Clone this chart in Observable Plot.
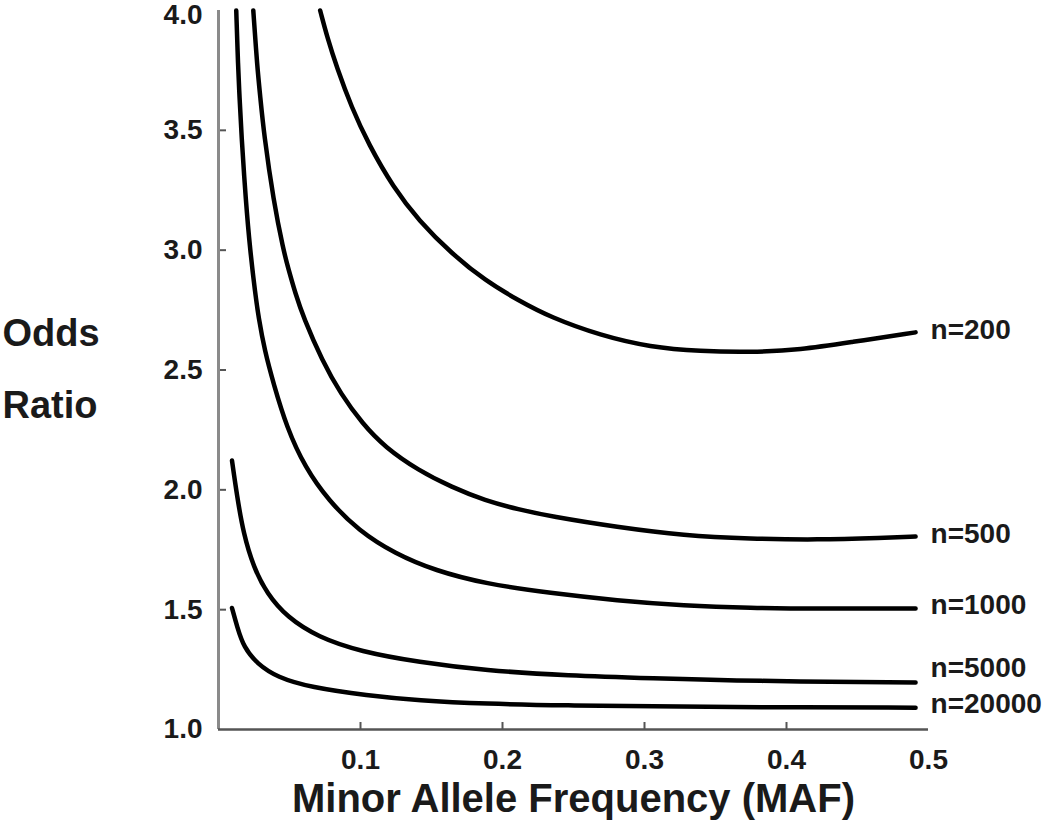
<!DOCTYPE html>
<html>
<head>
<meta charset="utf-8">
<script src="https://cdn.jsdelivr.net/npm/d3@7"></script>
<script src="https://cdn.jsdelivr.net/npm/@observablehq/plot@0.6"></script>
<style>
  html, body { margin: 0; padding: 0; background: #fff; }
  #chart svg { display: block; overflow: visible; }
</style>
</head>
<body>
<div id="chart"></div>
<script>
// ---- data ----
const seriesNames = ["n=200", "n=500", "n=1000", "n=5000", "n=20000"];

const maf200 = [0.0716, 0.0766, 0.0833, 0.0937, 0.1056, 0.1231, 0.1411, 0.1643, 0.1878, 0.2113, 0.2338, 0.269, 0.3042, 0.3394, 0.3747, 0.4099, 0.4451, 0.4909];
const or200  = [4.0, 3.888, 3.763, 3.596, 3.443, 3.262, 3.123, 2.985, 2.873, 2.79, 2.72, 2.644, 2.595, 2.578, 2.574, 2.584, 2.616, 2.657];

const maf500 = [0.0245, 0.0273, 0.0294, 0.032, 0.0387, 0.0458, 0.0489, 0.0542, 0.0598, 0.073, 0.0861, 0.1015, 0.1172, 0.1408, 0.1643, 0.1878, 0.2113, 0.2338, 0.2808, 0.3277, 0.3747, 0.4216, 0.4685, 0.4909];
const or500  = [4.0, 3.763, 3.641, 3.485, 3.207, 2.998, 2.929, 2.818, 2.72, 2.539, 2.4, 2.275, 2.178, 2.081, 2.011, 1.955, 1.918, 1.889, 1.844, 1.809, 1.796, 1.791, 1.8, 1.805];

const maf1000 = [0.0125, 0.0138, 0.0148, 0.0161, 0.0192, 0.0223, 0.0259, 0.0282, 0.0325, 0.0388, 0.048, 0.0609, 0.0775, 0.0986, 0.1244, 0.1526, 0.1878, 0.2338, 0.2808, 0.3277, 0.3747, 0.4216, 0.4909];
const or1000  = [4.0, 3.763, 3.641, 3.485, 3.207, 2.998, 2.818, 2.72, 2.581, 2.442, 2.261, 2.094, 1.955, 1.83, 1.733, 1.663, 1.608, 1.569, 1.538, 1.517, 1.507, 1.504, 1.505];

const maf5000 = [0.0095, 0.013, 0.0176, 0.0247, 0.0342, 0.0482, 0.0701, 0.1, 0.1408, 0.1878, 0.2465, 0.3042, 0.3747, 0.4909];
const or5000  = [2.122, 1.976, 1.816, 1.677, 1.566, 1.469, 1.385, 1.325, 1.281, 1.246, 1.225, 1.214, 1.202, 1.196];

const maf20000 = [0.0095, 0.0132, 0.0178, 0.0273, 0.0413, 0.0648, 0.1047, 0.1408, 0.1878, 0.2465, 0.3042, 0.3747, 0.4909];
const or20000  = [1.507, 1.427, 1.343, 1.274, 1.218, 1.176, 1.142, 1.121, 1.107, 1.1, 1.097, 1.093, 1.091];

const xTickValues = [0.1, 0.2, 0.3, 0.4, 0.5];
const yTickValues = [1.0, 1.5, 2.0, 2.5, 3.0, 3.5, 4.0];

const yTitleLines = ["Odds", "Ratio"];
const xTitle = "Minor Allele Frequency (MAF)";

// ---- build table ----
const seriesX = [maf200, maf500, maf1000, maf5000, maf20000];
const seriesY = [or200, or500, or1000, or5000, or20000];
const rows = [];
seriesNames.forEach((name, s) => {
  seriesX[s].forEach((m, i) => rows.push({series: name, maf: m, or: seriesY[s][i]}));
});
const ends = seriesNames.map((name, s) => ({
  series: name,
  maf: seriesX[s][seriesX[s].length - 1],
  or: seriesY[s][seriesY[s].length - 1]
}));

// label nudges (pixels) to match the original placement
const labelDy = {"n=200": -2, "n=500": -3, "n=1000": -3, "n=5000": -14, "n=20000": -4};

const font = "'Liberation Sans', Arial, Helvetica, sans-serif";
const ink = "#1a1a1a";
const tickFmt = d => d.toFixed(1);

const chart = Plot.plot({
  width: 1050,
  height: 822,
  marginLeft: 218,
  marginRight: 122,
  marginTop: 10,
  marginBottom: 93,
  style: {fontFamily: font, background: "#fff", color: ink},
  x: {domain: [0, 0.5], label: null},
  y: {domain: [1, 4], label: null},
  marks: [
    // inward tick marks
    Plot.axisY({ticks: yTickValues.slice(1, -1), tickSize: -8, tickFormat: () => "", color: "#555", strokeWidth: 2, label: null}),
    Plot.axisX({ticks: xTickValues.slice(0, -1), tickSize: -7, tickFormat: () => "", color: "#555", strokeWidth: 2, label: null}),
    // tick labels (top label nudged down so it is not cut off)
    Plot.axisY({ticks: yTickValues.slice(0, -1), tickSize: 0, tickPadding: 16, tickFormat: tickFmt,
      fontSize: 28, fontWeight: "bold", color: ink, label: null}),
    Plot.axisY({ticks: yTickValues.slice(-1), tickSize: 0, tickPadding: 16, tickFormat: tickFmt, dy: 5,
      fontSize: 28, fontWeight: "bold", color: ink, label: null}),
    Plot.axisX({ticks: xTickValues, tickSize: 0, tickPadding: 20, tickFormat: tickFmt,
      fontSize: 28, fontWeight: "bold", color: ink, label: null}),
    // axis lines
    Plot.ruleX([0], {stroke: "#8a8a8a", strokeWidth: 3}),
    Plot.ruleY([1], {stroke: "#555", strokeWidth: 2.5}),
    // curves
    Plot.line(rows, {x: "maf", y: "or", z: "series", stroke: "#000", strokeWidth: 4.5, curve: "basis"}),
    // series labels
    ...ends.map(e => Plot.text([e], {x: "maf", y: "or", text: "series", textAnchor: "start", dx: 15,
      dy: labelDy[e.series], fontSize: 28, fontWeight: "bold", fill: ink})),
    // y title (two lines)
    Plot.text([yTitleLines[0]], {frameAnchor: "left", lineAnchor: "middle", dx: -216, dy: -36, textAnchor: "start", fontSize: 38, fontWeight: "bold", fill: ink}),
    Plot.text([yTitleLines[1]], {frameAnchor: "left", lineAnchor: "middle", dx: -216, dy: 36, textAnchor: "start", fontSize: 38, fontWeight: "bold", fill: ink}),
    // x title
    Plot.text([xTitle], {frameAnchor: "bottom", lineAnchor: "middle", dy: 70, fontSize: 40, fontWeight: "bold", fill: ink})
  ]
});
document.getElementById("chart").appendChild(chart);
</script>
</body>
</html>
